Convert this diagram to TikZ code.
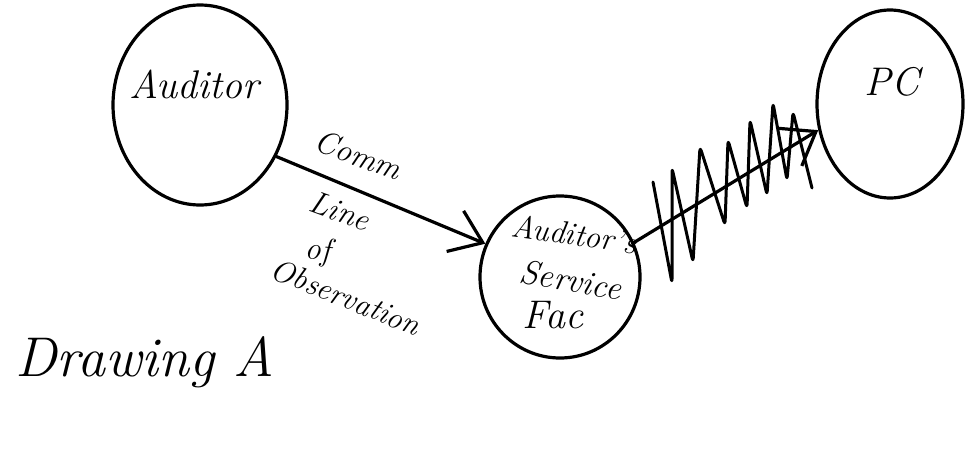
\documentclass[tikz,border=0pt]{standalone}
\usetikzlibrary{arrows.meta,shapes.geometric}
\tikzset{
  ink/.style={line width=3.2pt, line cap=round, line join=round},
  bubble/.style={ink, draw, ellipse, inner sep=0pt},
  hand/.style={font=\itshape\fontsize{#1}{#1}\selectfont, inner sep=0pt},
  barb/.style={-{Straight Barb[length=30pt,width=44pt,line width=3.2pt]}}
}
\begin{document}
\begin{tikzpicture}[x=1pt,y=-1pt]
\useasboundingbox (0,0) rectangle (968,450);
% ellipses
\node[bubble, minimum width=174pt, minimum height=200pt] (aud) at (200,105) {};
\node[bubble, minimum width=160pt, minimum height=162pt] (svc) at (560,277) {};
\node[bubble, minimum width=146pt, minimum height=188pt] (pc) at (890,104) {};
% texts in ellipses
\node[hand=40] (taud) at (194,84) {Auditor};
\node[hand=32, rotate=-8] (tsvc1) at (574,234) {Auditor's};
\node[hand=34, rotate=-10] (tsvc2) at (571,280) {Service};
\node[hand=40] (tsvc3) at (553,315) {Fac};
\node[hand=40] (tpc) at (892,82) {PC};
% connector labels
\node[hand=32, rotate=-20] (lcomm) at (358,155) {Comm};
\node[hand=32, rotate=-20] (lline) at (340,211) {Line};
\node[hand=32, rotate=-5] (lof) at (318,252) {of};
\node[hand=31, rotate=-22] (lobs) at (346,297) {Observation};
% title
\node[hand=56] (title) at (145,362) {Drawing A};
% connectors
\draw[ink, barb] (aud.-34) -- (svc.156);
\draw[ink, barb] (svc.25) -- (pc.-160);
% zigzag scribble over the second connector
\draw[ink, line width=3pt, rounded corners=4pt]
  (653,182) -- (672,283) -- (672,168) -- (693,262) -- (700,147) -- (725,225)
  -- (728,140) -- (747,208) -- (750,120) -- (767,195) -- (773,103) -- (787,180)
  -- (793,112) -- (812,188);
\end{tikzpicture}
\end{document}
